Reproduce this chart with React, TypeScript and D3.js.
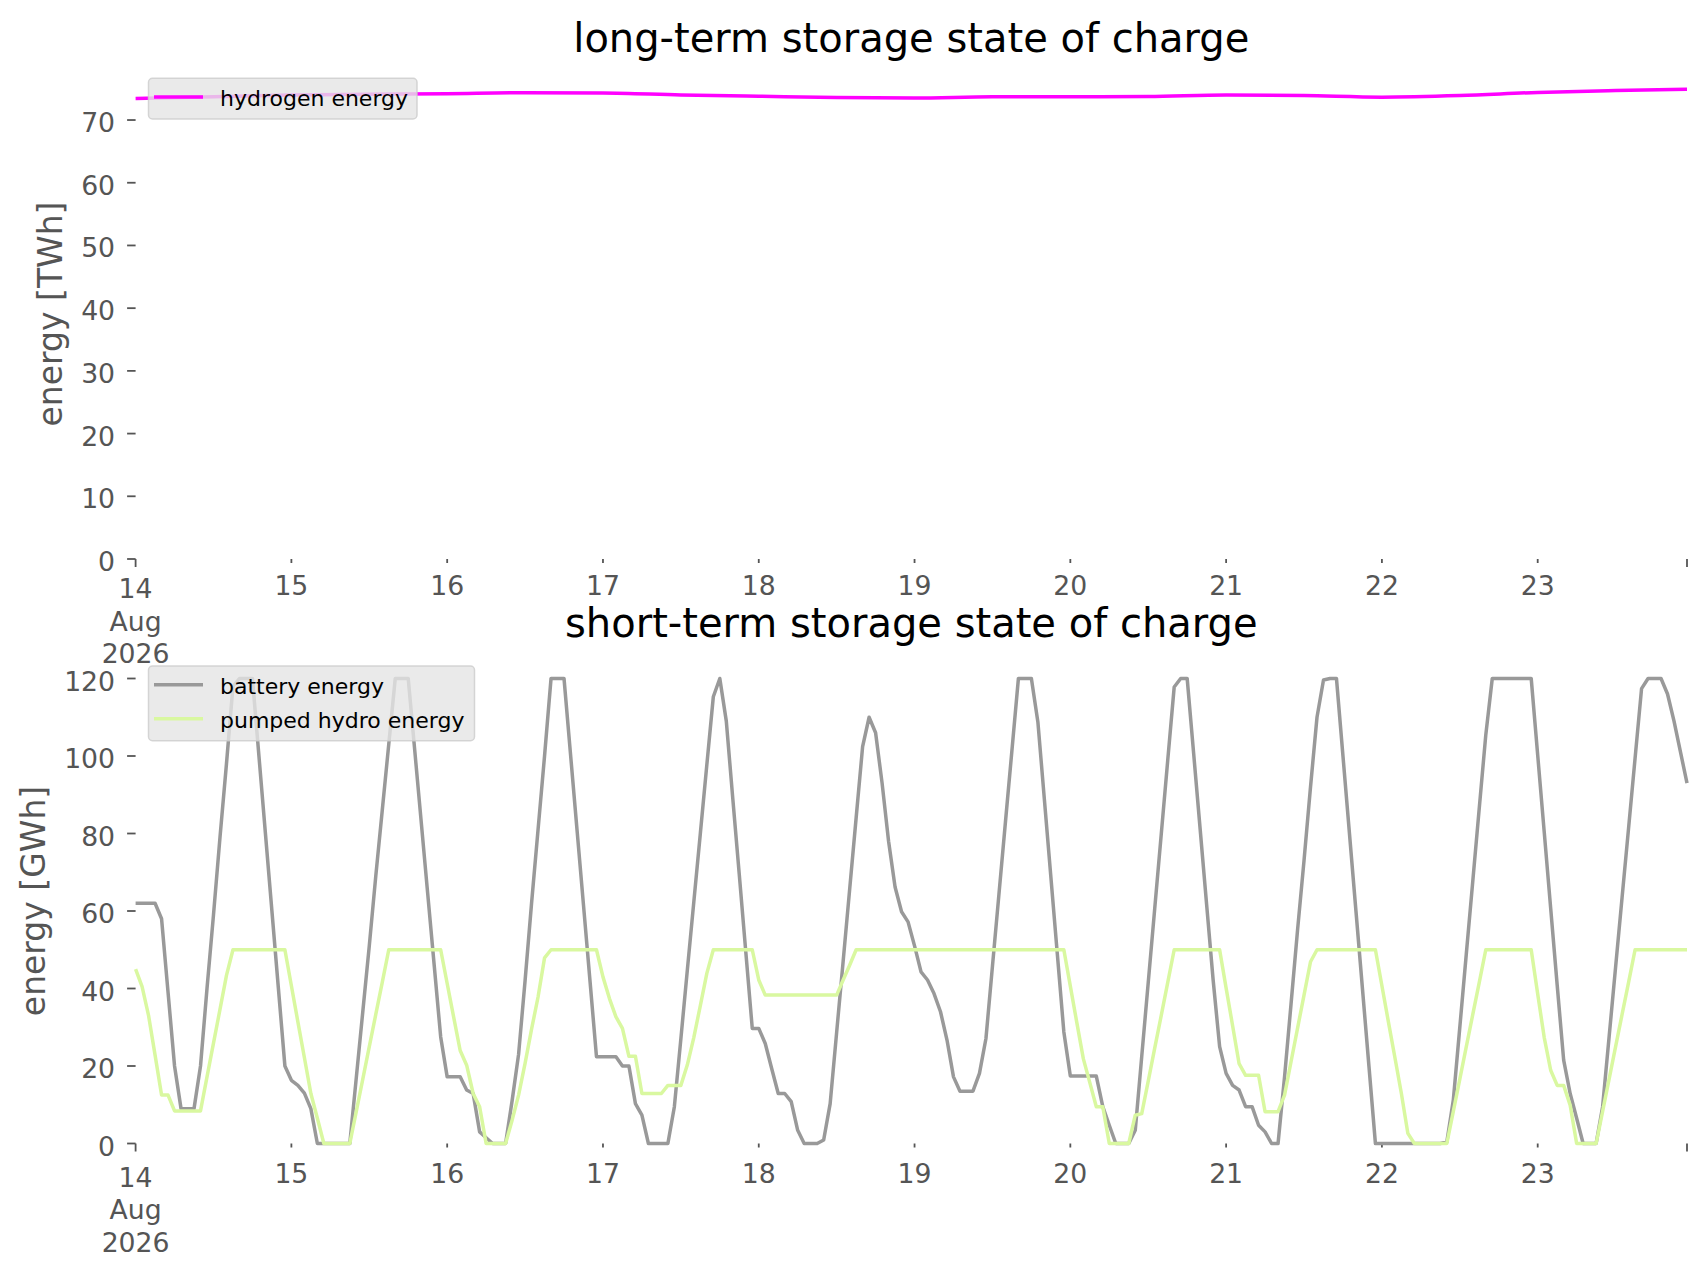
import React from 'react';
import * as d3 from 'd3';

// figure size
const W = 1706;
const H = 1277;

// time axis: hourly model run, 14 Aug 2026 00:00 to 23 Aug 2026 23:00
const t0 = new Date(2026, 7, 14, 0, 0);
const tEnd = new Date(2026, 7, 23, 23, 0);

const longHours = [...d3.range(0, 240, 12), 239];
const shortHours = d3.range(0, 240);

// long-term storage [TWh], 12-hourly
const hydrogen = [
  73.45, 73.7, 74.0, 74.1, 74.2, 74.35, 74.3, 74.0, 73.8, 73.6,
  73.5, 73.7, 73.7, 73.75, 74.0, 73.9, 73.65, 73.9, 74.4, 74.7,
  74.9,
];

// short-term storage [GWh], hourly, one row per day
const battery = [
  62, 62, 62, 62, 58, 39, 20, 9, 9, 9, 20, 40, 59, 79, 98, 118, 120, 120, 120, 100, 80, 60, 40, 20,
  16.3, 15, 13, 9, 0, 0, 0, 0, 0, 0, 17, 34, 51, 69, 86, 103, 120, 120, 120, 101.5, 83, 64.5, 46, 27.5,
  17.2, 17.2, 17.2, 13.8, 12.9, 3, 1.5, 0, 0, 0, 11, 23, 42, 62, 81, 100, 120, 120, 120, 100.5, 81, 61.5, 42, 22.4,
  22.4, 22.4, 22.4, 20, 20, 10.3, 7.3, 0, 0, 0, 0, 9.5, 27, 44.8, 62.4, 80, 97.7, 115.3, 120, 109, 89, 69.4, 49.5, 29.7,
  29.7, 25.8, 19.3, 12.9, 12.9, 10.8, 3.4, 0, 0, 0, 0.9, 10.3, 28.7, 47, 65.5, 84, 102.4, 110, 106, 93, 78, 66.2, 59.8, 57.2,
  51, 44.3, 42.2, 38.7, 34, 26.7, 17.2, 13.5, 13.5, 13.5, 18.1, 27.1, 45.7, 64.3, 82.9, 101.4, 120, 120, 120, 108.8, 88.8, 68.8, 48.8, 28.8,
  17.4, 17.4, 17.4, 17.4, 17.4, 9.5, 4.7, 0, 0, 0, 3.4, 22.5, 41.5, 60.6, 79.7, 98.8, 117.8, 120, 120, 100.6, 81.1, 61.6, 42.2, 25,
  18.1, 15, 13.8, 9.5, 9.5, 4.7, 3, 0, 0, 17.2, 36, 55, 73, 92, 110, 119.6, 120, 120, 100, 80, 60, 40, 20, 0,
  0, 0, 0, 0, 0, 0, 0, 0, 0, 0, 0.4, 11.2, 30, 48.9, 67.7, 86.6, 105.4, 120, 120, 120, 120, 120, 120, 120,
  100.2, 80.5, 60.7, 40.9, 21.5, 12.9, 6.5, 0, 0, 0, 9.5, 27.5, 45.5, 63.5, 81.4, 99.4, 117.4, 120, 120, 120, 116, 109, 101, 93,
];

const pumpedHydro = [
  45, 40.5, 33, 22.8, 12.5, 12.5, 8.4, 8.4, 8.4, 8.4, 8.4, 17.2, 25.9, 34.6, 43.4, 50, 50, 50, 50, 50, 50, 50, 50, 50,
  40.7, 31.4, 22.2, 12.9, 6.5, 0, 0, 0, 0, 0, 8.3, 16.6, 25, 33.3, 41.6, 50, 50, 50, 50, 50, 50, 50, 50, 50,
  41.3, 32.6, 24, 20.2, 12.9, 9.5, 0, 0, 0, 0, 6, 12.5, 20.7, 29.5, 37.8, 47.9, 50, 50, 50, 50, 50, 50, 50, 50,
  43, 37.4, 32.7, 29.7, 22.5, 22.5, 12.9, 12.9, 12.9, 12.9, 15, 15, 15, 20.3, 27.4, 35.6, 43.9, 50, 50, 50, 50, 50, 50, 50,
  42.2, 38.3, 38.3, 38.3, 38.3, 38.3, 38.3, 38.3, 38.3, 38.3, 38.3, 38.3, 38.3, 42.2, 46, 50, 50, 50, 50, 50, 50, 50, 50, 50,
  50, 50, 50, 50, 50, 50, 50, 50, 50, 50, 50, 50, 50, 50, 50, 50, 50, 50, 50, 50, 50, 50, 50, 50,
  40.6, 31.2, 21.9, 15.7, 9.5, 9.5, 0, 0, 0, 0, 7.3, 7.7, 16.1, 24.6, 33, 41.5, 50, 50, 50, 50, 50, 50, 50, 50,
  40.1, 30.4, 20.6, 17.6, 17.6, 17.6, 8.2, 8.2, 8.2, 12.5, 21.1, 29.7, 38.3, 46.9, 50, 50, 50, 50, 50, 50, 50, 50, 50, 50,
  40.7, 31.4, 22.2, 12.9, 2.6, 0, 0, 0, 0, 0, 0, 8.3, 16.6, 25, 33.3, 41.6, 50, 50, 50, 50, 50, 50, 50, 50,
  38.6, 27.4, 18.9, 15, 15, 9.9, 0, 0, 0, 0, 8.3, 16.6, 25, 33.3, 41.6, 50, 50, 50, 50, 50, 50, 50, 50, 50,
];

const longTicks = [0, 10, 20, 30, 40, 50, 60, 70];
const shortTicks = [0, 20, 40, 60, 80, 100, 120];
const firstTickLabel = ['14', 'Aug', '2026'];

const FONT = '"DejaVu Sans", sans-serif';
const GREY_TXT = '#555555';
const LW = 3.5;

const x = d3.scaleTime().domain([t0, tEnd]).range([135.6, 1687]);
const minorDays = d3.timeDay.range(d3.timeDay.offset(t0, 1), tEnd);
const dayFmt = d3.timeFormat('%-d');

type Series = { label: string; color: string; hours: number[]; values: number[]; smooth?: boolean };

interface PanelProps {
  y: d3.ScaleLinear<number, number>;
  yTicks: number[];
  title: string;
  titleBaseline: number;
  yLabel: string;
  yLabelX: number;
  yLabelY: number;
  minorBaseline: number;
  majorBaseline: number;
  series: Series[];
  legendTop: number;
  legendWidth: number;
}

const Panel: React.FC<PanelProps> = ({
  y, yTicks, title, titleBaseline, yLabel, yLabelX, yLabelY,
  minorBaseline, majorBaseline, series, legendTop, legendWidth,
}) => {
  const [x0, x1] = x.range();
  const axisY = y(0);
  const legendH = 6.7 + 34 * series.length;

  return (
    <g>
      {/* title */}
      <text x={(x0 + x1) / 2} y={titleBaseline} textAnchor="middle" fontSize={40} fill="#000">
        {title}
      </text>

      {/* y label */}
      <text
        transform={`translate(${yLabelX},${yLabelY}) rotate(-90)`}
        textAnchor="middle"
        fontSize={33}
        fill={GREY_TXT}
      >
        {yLabel}
      </text>

      {/* y ticks */}
      {yTicks.map(v => (
        <g key={v}>
          <line x1={x0 - 8.5} x2={x0} y1={y(v)} y2={y(v)} stroke={GREY_TXT} strokeWidth={1.8} />
          <text x={x0 - 20.5} y={y(v) + 12} textAnchor="end" fontSize={26.7} fill={GREY_TXT}>
            {v}
          </text>
        </g>
      ))}

      {/* x ticks: major at both ends, minor at each day */}
      {[t0, tEnd].map(d => (
        <line key={+d} x1={x(d)} x2={x(d)} y1={axisY} y2={axisY + 8} stroke={GREY_TXT} strokeWidth={1.8} />
      ))}
      {minorDays.map(d => (
        <g key={+d}>
          <line x1={x(d)} x2={x(d)} y1={axisY} y2={axisY + 4} stroke={GREY_TXT} strokeWidth={1.8} />
          <text x={x(d)} y={minorBaseline} textAnchor="middle" fontSize={26.7} fill={GREY_TXT}>
            {dayFmt(d)}
          </text>
        </g>
      ))}
      {firstTickLabel.map((s, i) => (
        <text key={s} x={x(t0)} y={majorBaseline + i * 32.5} textAnchor="middle" fontSize={26.7} fill={GREY_TXT}>
          {s}
        </text>
      ))}

      {/* lines */}
      {series.map(s => {
        const pts: [Date, number][] = s.hours.map((h, i) => [d3.timeHour.offset(t0, h), s.values[i]]);
        const line = d3
          .line<[Date, number]>()
          .x(d => x(d[0]))
          .y(d => y(d[1]))
          .curve(s.smooth ? d3.curveMonotoneX : d3.curveLinear);
        return (
          <path
            key={s.label}
            d={line(pts) ?? ''}
            fill="none"
            stroke={s.color}
            strokeWidth={LW}
            strokeLinejoin="round"
          />
        );
      })}

      {/* legend */}
      <g>
        <rect
          x={148.5}
          y={legendTop}
          width={legendWidth}
          height={legendH}
          rx={4}
          fill="#e5e5e5"
          fillOpacity={0.8}
          stroke="#cccccc"
          strokeOpacity={0.8}
          strokeWidth={1.5}
        />
        {series.map((s, i) => (
          <g key={s.label}>
            <line
              x1={154}
              x2={203}
              y1={legendTop + 18.7 + i * 34}
              y2={legendTop + 18.7 + i * 34}
              stroke={s.color}
              strokeWidth={LW}
            />
            <text x={220} y={legendTop + 27.5 + i * 34} fontSize={22} fill="#000">
              {s.label}
            </text>
          </g>
        ))}
      </g>
    </g>
  );
};

const App: React.FC = () => {
  const yLong = d3.scaleLinear().domain([0, 78.7]).range([559, 559 - 78.7 * 6.271]);
  const yShort = d3.scaleLinear().domain([0, 126]).range([1143.5, 1143.5 - 126 * 3.875]);

  return (
    <svg
      width={W}
      height={H}
      viewBox={`0 0 ${W} ${H}`}
      style={{ position: 'absolute', left: 0, top: 0, display: 'block', background: '#fff' }}
      fontFamily={FONT}
    >
      <rect width={W} height={H} fill="#fff" />
      <Panel
        y={yLong}
        yTicks={longTicks}
        title="long-term storage state of charge"
        titleBaseline={51.7}
        yLabel="energy [TWh]"
        yLabelX={62}
        yLabelY={314}
        minorBaseline={595}
        majorBaseline={598}
        series={[{ label: 'hydrogen energy', color: '#ff00ff', hours: longHours, values: hydrogen, smooth: true }]}
        legendTop={78.3}
        legendWidth={268.5}
      />
      <Panel
        y={yShort}
        yTicks={shortTicks}
        title="short-term storage state of charge"
        titleBaseline={637}
        yLabel="energy [GWh]"
        yLabelX={44.5}
        yLabelY={901}
        minorBaseline={1182.5}
        majorBaseline={1186.5}
        series={[
          { label: 'battery energy', color: '#999999', hours: shortHours, values: battery },
          { label: 'pumped hydro energy', color: '#d9f8a0', hours: shortHours, values: pumpedHydro },
        ]}
        legendTop={666}
        legendWidth={326}
      />
    </svg>
  );
};

export default App;
